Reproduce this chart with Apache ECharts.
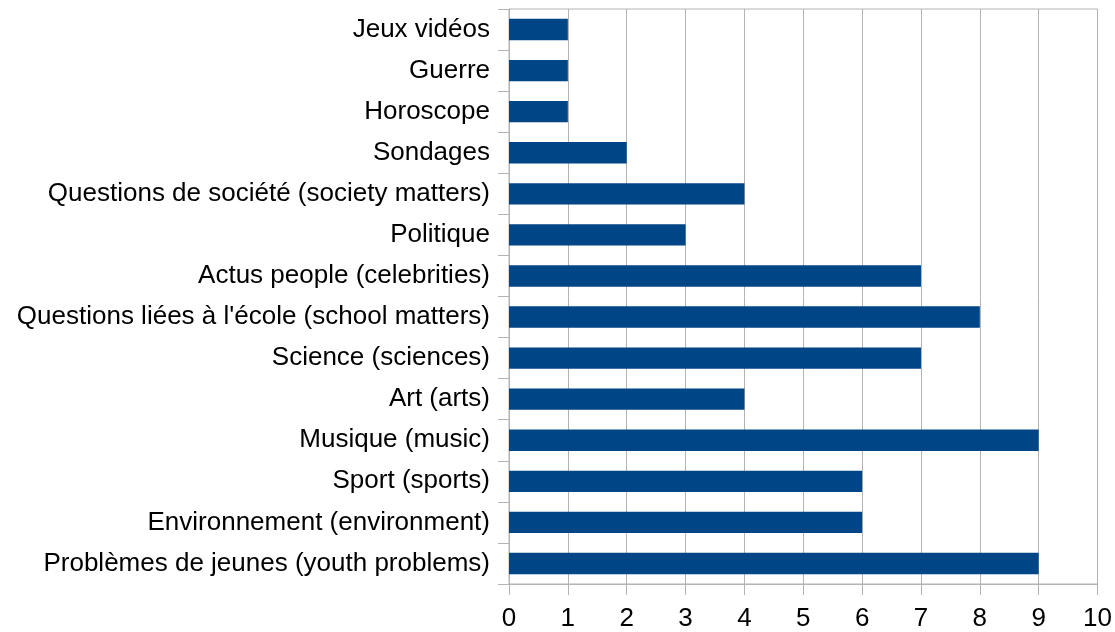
<!DOCTYPE html>
<html>
<head>
<meta charset="utf-8">
<script src="https://cdn.jsdelivr.net/npm/echarts@6/dist/echarts.min.js"></script>
<style>
  html, body { margin: 0; padding: 0; background: #fff; }
  #chart { width: 1115px; height: 632px; }
</style>
</head>
<body>
<div id="chart"></div>
<script>
// categories listed bottom to top, as drawn by the category axis
var categories = [
  'Problèmes de jeunes (youth problems)',
  'Environnement (environment)',
  'Sport (sports)',
  'Musique (music)',
  'Art (arts)',
  'Science (sciences)',
  "Questions liées à l'école (school matters)",
  'Actus people (celebrities)',
  'Politique',
  'Questions de société (society matters)',
  'Sondages',
  'Horoscope',
  'Guerre',
  'Jeux vidéos'
];
var counts = [9, 6, 6, 9, 4, 7, 8, 7, 3, 4, 2, 1, 1, 1];
var xTicks = [0, 1, 2, 3, 4, 5, 6, 7, 8, 9, 10];

var lineGrey = '#b3b3b3';
var chart = echarts.init(document.getElementById('chart'));

chart.setOption({
  animation: false,
  textStyle: { fontFamily: 'Liberation Sans, Arial, sans-serif' },
  grid: {
    left: 509, right: 17, top: 9, bottom: 48,
    show: true, borderColor: lineGrey, borderWidth: 1, backgroundColor: 'transparent'
  },
  xAxis: {
    type: 'value',
    min: xTicks[0],
    max: xTicks[xTicks.length - 1],
    interval: 1,
    axisLine: { show: true, lineStyle: { color: lineGrey } },
    axisTick: { show: true, length: 11, lineStyle: { color: lineGrey } },
    splitLine: { show: true, lineStyle: { color: lineGrey } },
    axisLabel: { color: '#000', fontSize: 26, margin: 22 }
  },
  yAxis: {
    type: 'category',
    data: categories,
    axisLine: { show: true, lineStyle: { color: lineGrey } },
    axisTick: { show: true, length: 11, lineStyle: { color: lineGrey } },
    splitLine: { show: false },
    axisLabel: { color: '#000', fontSize: 26, margin: 19 }
  },
  series: [{
    type: 'bar',
    data: counts,
    barCategoryGap: '48%',
    itemStyle: { color: '#004586' }
  }]
});
</script>
</body>
</html>
